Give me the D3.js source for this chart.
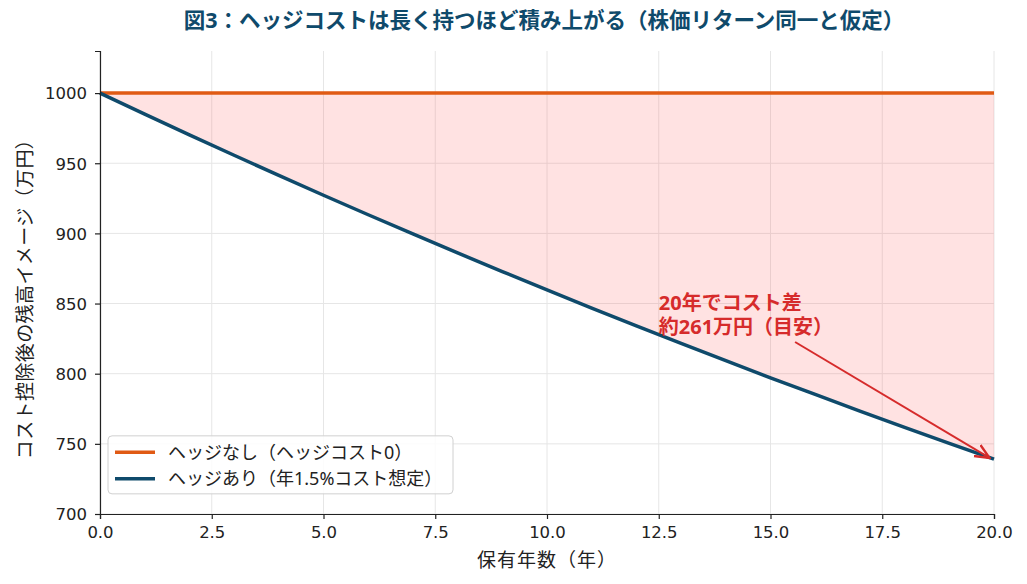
<!DOCTYPE html>
<html>
<head>
<meta charset="utf-8">
<script src="https://cdn.jsdelivr.net/npm/d3@7"></script>
<style>
  body { margin: 0; background: #fff; }
  svg text { font-family: "Noto Sans", "Noto Sans CJK JP", sans-serif; }
</style>
</head>
<body>
<div id="chart"></div>
<script>
// Years held
const years = [0, 1, 2, 3, 4, 5, 6, 7, 8, 9, 10, 11, 12, 13, 14, 15, 16, 17, 18, 19, 20];
// No hedge (cost 0)
const noHedge = [1000, 1000, 1000, 1000, 1000, 1000, 1000, 1000, 1000, 1000, 1000,
                 1000, 1000, 1000, 1000, 1000, 1000, 1000, 1000, 1000, 1000];
// Hedged (1.5%/yr cost)
const hedged = [1000, 985.0, 970.2, 955.7, 941.3, 927.2, 913.3, 899.6, 886.1, 872.8, 859.7,
                846.8, 834.1, 821.6, 809.3, 797.1, 785.2, 773.4, 761.8, 750.4, 739.1];
const xTicks = [0, 2.5, 5, 7.5, 10, 12.5, 15, 17.5, 20];
const yTicks = [700, 750, 800, 850, 900, 950, 1000];
const seriesNames = ["ヘッジなし（ヘッジコスト0）", "ヘッジあり（年1.5%コスト想定）"];
const colors = ["#e05a14", "#0f4a6b"];

const W = 1027, H = 584;
const margin = {top: 51, right: 33, bottom: 70, left: 100};
const width = W - margin.left - margin.right, height = H - margin.top - margin.bottom;

const svg = d3.select("#chart").append("svg")
    .attr("width", W).attr("height", H);

const x = d3.scaleLinear().domain([0, 20]).range([0, width]);
const y = d3.scaleLinear().domain([700, 1030]).range([height, 0]);

const g = svg.append("g").attr("transform", `translate(${margin.left},${margin.top})`);

// grid
g.selectAll(".vgrid").data(xTicks).enter().append("line")
    .attr("x1", d => x(d)).attr("x2", d => x(d))
    .attr("y1", 0).attr("y2", height)
    .attr("stroke", "#e6e6e6").attr("stroke-width", 1);
g.selectAll(".hgrid").data(yTicks).enter().append("line")
    .attr("x1", 0).attr("x2", width)
    .attr("y1", d => y(d)).attr("y2", d => y(d))
    .attr("stroke", "#e6e6e6").attr("stroke-width", 1);

const rows = years.map((t, i) => ({t, a: noHedge[i], b: hedged[i]}));

// gap area
const area = d3.area().x(d => x(d.t)).y0(d => y(d.a)).y1(d => y(d.b));
g.append("path").datum(rows).attr("d", area)
    .attr("fill", "#ff4d4d").attr("fill-opacity", 0.16);

const line = key => d3.line().x(d => x(d.t)).y(d => y(d[key]));
g.append("path").datum(rows).attr("d", line("a"))
    .attr("fill", "none").attr("stroke", colors[0]).attr("stroke-width", 3.5);
g.append("path").datum(rows).attr("d", line("b"))
    .attr("fill", "none").attr("stroke", colors[1]).attr("stroke-width", 3.5);

// axes
const xAxis = g.append("g").attr("transform", `translate(0,${height})`)
    .call(d3.axisBottom(x).tickValues(xTicks).tickFormat(d3.format(".1f")).tickSizeOuter(0).tickSize(5));
const yAxis = g.append("g")
    .call(d3.axisLeft(y).tickValues(yTicks).tickFormat(d3.format("d")).tickSizeOuter(0).tickSize(5));
[xAxis, yAxis].forEach(a => {
    a.select(".domain").attr("stroke", "#222").attr("stroke-width", 1.2);
    a.selectAll(".tick line").attr("stroke", "#222").attr("stroke-width", 1.2);
    a.selectAll(".tick text").attr("font-size", 16.5).attr("fill", "#222")
        .style("font-family", "\"DejaVu Sans\", sans-serif");
});
xAxis.selectAll(".tick text").attr("dy", "0.95em");
yAxis.selectAll(".tick text").attr("dx", "-0.3em").attr("dy", "0.35em");

// axis labels
svg.append("text").attr("x", margin.left + width / 2).attr("y", 567)
    .attr("text-anchor", "middle").attr("font-size", 19).attr("letter-spacing", 1)
    .attr("fill", "#222")
    .text("保有年数（年）");
svg.append("text")
    .attr("transform", `translate(32,${margin.top + height / 2 + 12}) rotate(-90)`)
    .attr("text-anchor", "middle").attr("font-size", 19).attr("letter-spacing", 0.4)
    .attr("fill", "#222")
    .text("コスト控除後の残高イメージ（万円）");

// title
svg.append("text").attr("x", 544).attr("y", 28)
    .attr("text-anchor", "middle").attr("font-size", 21.5).attr("font-weight", "bold")
    .attr("fill", "#0f4a6b")
    .text("図3：ヘッジコストは長く持つほど積み上がる（株価リターン同一と仮定）");

// annotation
const ann = g.append("text").attr("font-size", 20).attr("font-weight", "bold").attr("fill", "#d62b2b");
ann.append("tspan").attr("x", x(12.5)).attr("y", 259).text("20年でコスト差");
ann.append("tspan").attr("x", x(12.5)).attr("y", 283).text("約261万円（目安）");

svg.append("defs").append("marker")
    .attr("id", "arr").attr("viewBox", "0 0 10 10").attr("refX", 9).attr("refY", 5)
    .attr("markerWidth", 8).attr("markerHeight", 8).attr("orient", "auto")
    .append("path").attr("d", "M0,1 L9,5 L0,9").attr("fill", "none")
    .attr("stroke", "#d62b2b").attr("stroke-width", 1.5);
g.append("line")
    .attr("x1", x(15.55)).attr("y1", y(822.6))
    .attr("x2", x(19.9)).attr("y2", y(740))
    .attr("stroke", "#d62b2b").attr("stroke-width", 2)
    .attr("marker-end", "url(#arr)");

// legend
const lg = g.append("g").attr("transform", `translate(8,${y(750) - 8})`);
lg.append("rect").attr("width", 345).attr("height", 58).attr("rx", 4)
    .attr("fill", "#fff").attr("fill-opacity", 0.85)
    .attr("stroke", "#d0d0d0").attr("stroke-width", 1);
seriesNames.forEach((name, i) => {
    const yy = 16.5 + i * 26.5;
    lg.append("line").attr("x1", 7).attr("x2", 47).attr("y1", yy).attr("y2", yy)
        .attr("stroke", colors[i]).attr("stroke-width", 3.5);
    lg.append("text").attr("x", 60).attr("y", yy).attr("dy", "0.35em")
        .attr("font-size", 18).attr("fill", "#222").text(name);
});
</script>
</body>
</html>
